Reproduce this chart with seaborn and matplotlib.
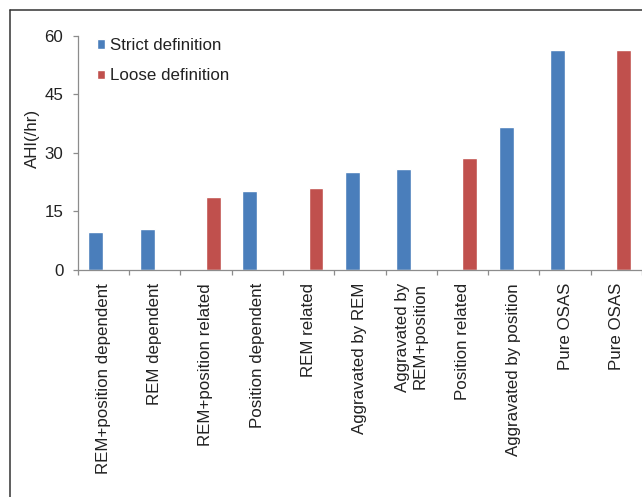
import matplotlib
matplotlib.use("Agg")
import matplotlib.pyplot as plt
import seaborn as sns
import pandas as pd
from matplotlib.lines import Line2D

categories = ["REM+position dependent", "REM dependent", "REM+position related",
              "Position dependent", "REM related", "Aggravated by REM",
              "Aggravated by\nREM+position", "Position related",
              "Aggravated by position", "Pure OSAS", "Pure OSAS"]
series = ["Strict definition", "Strict definition", "Loose definition",
          "Strict definition", "Loose definition", "Strict definition",
          "Strict definition", "Loose definition", "Strict definition",
          "Strict definition", "Loose definition"]
values = [9.8, 10.6, 18.7, 20.3, 21.0, 25.1, 25.9, 28.7, 36.6, 56.4, 56.4]
yticks = [0, 15, 30, 45, 60]
hue_order = ["Strict definition", "Loose definition"]
colors = {"Strict definition": "#4A7EBB", "Loose definition": "#C0504D"}

keys = [f"c{i}" for i in range(len(categories))]
df = pd.DataFrame({"key": keys, "series": series, "value": values})

sns.set_style("white")
plt.rcParams["font.family"] = ["Liberation Sans", "DejaVu Sans"]
FS = 12.2

W, H = 642, 497
fig = plt.figure(figsize=(W / 100, H / 100), dpi=100)
left = 77.7 / W
bottom = 1 - 270 / H
top = 1 - 35.7 / H
ax = fig.add_axes([left, bottom, 1 - left, top - bottom])

sns.barplot(data=df, x="key", y="value", hue="series", hue_order=hue_order,
            order=keys, palette=colors, width=0.58, dodge=True, saturation=1,
            errorbar=None, ax=ax)

ax.set_xlim(-0.5, -0.5 + (W - 77.7) / 51.4)
ax.set_ylim(0, 60)
ax.set_yticks(yticks)
ax.set_yticklabels([str(t) for t in yticks], fontsize=FS, color="#222222")
ax.tick_params(axis="y", direction="out", length=3.6, width=0.9, color="#8c8c8c",
               pad=6.8, left=True)

ax.set_xticks(range(len(categories)))
ax.set_xticklabels(categories, rotation=90, fontsize=FS, color="#222222",
                   ha="center", va="top", multialignment="right")
ax.tick_params(axis="x", which="major", length=0, pad=9.4)
ax.set_xticks([i - 0.5 for i in range(len(categories) + 1)], minor=True)
ax.tick_params(axis="x", which="minor", direction="out", length=3.6, width=0.9,
               color="#8c8c8c", bottom=True)

for s in ["top", "right"]:
    ax.spines[s].set_visible(False)
for s in ["left", "bottom"]:
    ax.spines[s].set_color("#8c8c8c")
    ax.spines[s].set_linewidth(0.9)

ax.set_xlabel("")
ax.set_ylabel("AHI(/hr)", fontsize=FS, color="#222222")
ax.yaxis.label.set_va("center")
ax.yaxis.set_label_coords(32 / W, 1 - 138 / H, transform=fig.transFigure)

handles, labels = ax.get_legend_handles_labels()
ax.legend(handles, labels, frameon=False, fontsize=FS, loc="upper left",
          bbox_to_anchor=(96.7 / W, 1 - 38 / H), bbox_transform=fig.transFigure,
          borderaxespad=0, borderpad=0, handlelength=0.48, handleheight=0.48,
          handletextpad=0.3, labelspacing=0.9, labelcolor="#222222")

fig.add_artist(Line2D([10 / W, 10 / W], [0, 1 - 10 / H], transform=fig.transFigure,
                      color="#333333", lw=1.1))
fig.add_artist(Line2D([10 / W, 1], [1 - 10 / H, 1 - 10 / H], transform=fig.transFigure,
                      color="#333333", lw=1.1))

fig.savefig("out.png", dpi=100)
